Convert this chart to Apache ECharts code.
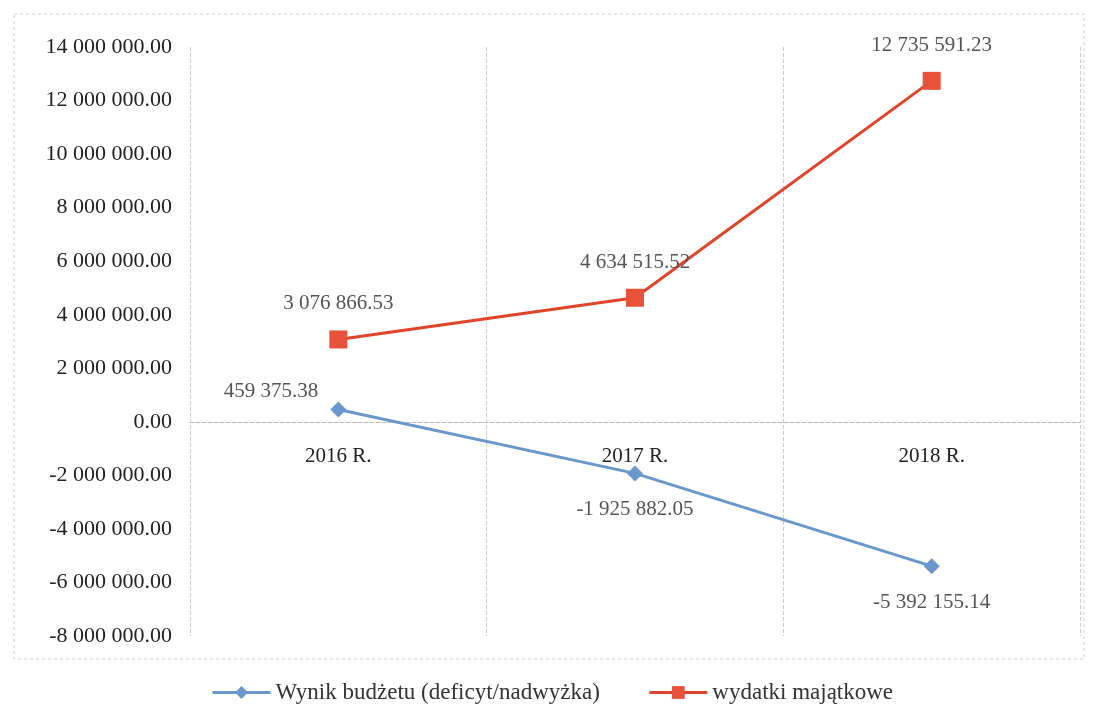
<!DOCTYPE html>
<html><head><meta charset="utf-8">
<script src="https://cdn.jsdelivr.net/npm/echarts@6/dist/echarts.min.js"></script>
<style>html,body{margin:0;padding:0;background:#fff}#c{width:1094px;height:715px}</style>
</head><body><div id="c"></div>
<script>
const categories = ['2016 R.', '2017 R.', '2018 R.'];
const wynik = [459375.38, -1925882.05, -5392155.14];
const wydatki = [3076866.53, 4634515.52, 12735591.23];
const seriesNames = ['Wynik budżetu (deficyt/nadwyżka)', 'wydatki majątkowe'];

function fmt(v) {
  const neg = v < 0;
  const s = Math.abs(v).toFixed(2);
  const [i, d] = s.split('.');
  const g = i.replace(/\B(?=(\d{3})+(?!\d))/g, ' ');
  return (neg ? '-' : '') + g + '.' + d;
}
const FONT = '"Liberation Serif", "DejaVu Serif", serif';
const chart = echarts.init(document.getElementById('c'), null, {renderer: 'canvas'});
const wynikData = wynik.map((v, i) => ({
  value: v,
  label: i === 0 ? {position: 'left', offset: [0, -18], distance: 12} : {position: 'bottom', distance: 18}
}));
chart.setOption({
  animation: false,
  backgroundColor: '#fff',
  textStyle: {fontFamily: FONT},
  grid: {left: 190, right: 14, top: 47, bottom: 79},
  xAxis: {
    type: 'category',
    data: categories,
    boundaryGap: true,
    axisLine: {onZero: true, lineStyle: {color: '#bbb', type: 'dashed', width: 1}},
    axisTick: {show: false},
    axisLabel: {color: '#222', fontSize: 21, fontFamily: FONT, margin: -190, verticalAlign: 'top'},
    splitLine: {show: true, lineStyle: {color: '#ccc', type: 'dashed', width: 1}}
  },
  yAxis: {
    type: 'value',
    min: -8000000, max: 14000000, interval: 2000000,
    axisLine: {show: false},
    axisTick: {show: false},
    splitLine: {show: false},
    axisLabel: {color: '#222', fontSize: 22, fontFamily: FONT, margin: 18, formatter: v => fmt(v)}
  },
  legend: {
    bottom: 6, left: 206,
    itemWidth: 58, itemHeight: 16, itemGap: 48,
    lineStyle: {width: 3},
    textStyle: {color: '#333', fontSize: 23, fontFamily: FONT},
    data: seriesNames
  },
  graphic: [{
    type: 'rect', shape: {x: 14, y: 14, width: 1070, height: 645},
    style: {fill: 'none', stroke: '#d0d0d0', lineWidth: 1, lineDash: [3, 3]}, silent: true
  }],
  series: [
    {
      name: seriesNames[0], type: 'line', data: wynikData,
      symbol: 'diamond', symbolSize: 16,
      itemStyle: {color: '#6a97cc'},
      lineStyle: {color: '#6a97cc', width: 3},
      label: {show: true, color: '#555', fontSize: 21, fontFamily: FONT, formatter: p => fmt(p.value)}
    },
    {
      name: seriesNames[1], type: 'line', data: wydatki,
      symbol: 'rect', symbolSize: 18,
      itemStyle: {color: '#e8523a'},
      lineStyle: {color: '#e0442a', width: 3},
      label: {show: true, position: 'top', distance: 16, color: '#555', fontSize: 21, fontFamily: FONT, formatter: p => fmt(p.value)}
    }
  ]
});
</script></body></html>
